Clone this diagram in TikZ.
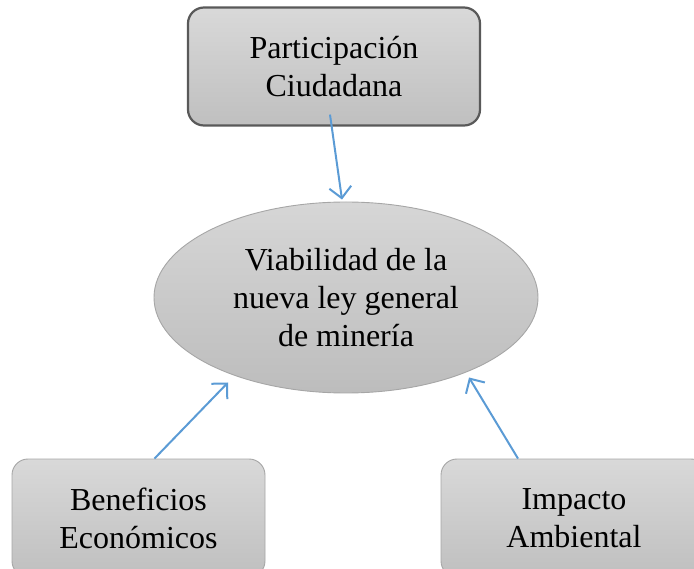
\documentclass[tikz,border=0pt]{standalone}
\usepackage{fontspec}
\setmainfont{Liberation Serif}
\usepackage{tikz}
\usetikzlibrary{shapes.geometric,arrows.meta}

\definecolor{flechaazul}{HTML}{5B9BD5}
\definecolor{bordeosc}{HTML}{595959}
\definecolor{bordeclaro}{HTML}{A6A6A6}

\tikzset{
  texto/.style={align=center, font=\fontsize{32}{38}\selectfont, inner sep=0pt},
  caja/.style={texto, rectangle, rounded corners=16pt,
    top color=gray!30, bottom color=gray!50},
  cajasup/.style={caja, draw=bordeosc, line width=2.2pt},
  cajainf/.style={caja, draw=bordeclaro, line width=0.9pt},
  elipse/.style={texto, ellipse, draw=bordeclaro, line width=0.9pt,
    top color=gray!32, bottom color=gray!52},
  flecha/.style={draw=flechaazul, line width=2pt,
    -{Straight Barb[length=11pt,width=22pt,line width=2pt]}}
}

\begin{document}
\begin{tikzpicture}[x=1pt, y=-1pt]
\useasboundingbox (0,0) rectangle (694,569);
\clip (0,0) rectangle (694,569);

% nodos
\node[cajasup, minimum width=292pt, minimum height=118pt] (part) at (334,66.5)
  {Participación\\Ciudadana};
\node[elipse, minimum width=384pt, minimum height=191pt] (ley) at (346,297.5)
  {Viabilidad de la\\nueva ley general\\de minería};
\node[cajainf, minimum width=253pt, minimum height=118pt] (eco) at (138.5,518)
  {Beneficios\\Económicos};
\node[cajainf, minimum width=266pt, minimum height=118pt] (amb) at (574,518)
  {Impacto\\Ambiental};

% conectores
\draw[flecha] ([shift={(-4,-12)}]part.south) -- ([shift={(-4,-2)}]ley.north);
\draw[flecha] ([xshift=16pt]eco.north) -- ([shift={(-118,85)}]ley.center);
\draw[flecha] ([xshift=-56pt]amb.north) -- ([shift={(123,80)}]ley.center);
\end{tikzpicture}
\end{document}
